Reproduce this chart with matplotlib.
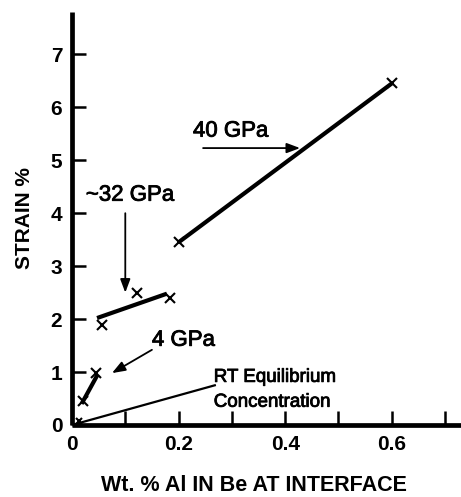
import matplotlib
matplotlib.use("Agg")
import matplotlib.pyplot as plt
import matplotlib.patheffects as pe
from matplotlib.ticker import FixedLocator

# Data (wt.% Al, strain %)
gpa40_line_x = [0.2, 0.6]
gpa40_line_y = [3.45, 6.45]
gpa40_pts_x = [0.2, 0.6]
gpa40_pts_y = [3.45, 6.45]

gpa32_line_x = [0.047, 0.178]
gpa32_line_y = [2.02, 2.48]
gpa32_pts_x = [0.056, 0.122, 0.184]
gpa32_pts_y = [1.88, 2.5, 2.4]

gpa4_line_x = [0.018, 0.048]
gpa4_line_y = [0.4, 0.95]
gpa4_pts_x = [0.021, 0.045]
gpa4_pts_y = [0.45, 0.98]

rt_line_x = [0.0, 0.268]
rt_line_y = [0.0, 0.75]
rt_pts_x = [0.014]
rt_pts_y = [0.08]

x_major = [0, 0.2, 0.4, 0.6]
x_minor = [0.1, 0.3, 0.5, 0.7]
x_labels = ['0', '0.2', '0.4', '0.6']
y_ticks = [0, 1, 2, 3, 4, 5, 6, 7]

plt.rcParams['font.family'] = ['Liberation Sans', 'DejaVu Sans']

fig = plt.figure(figsize=(4.61, 4.97), dpi=100)
ax = fig.add_axes([72/461, 72/497, (461-72)/461, (425-12)/497])
ax.set_xlim(0, 0.73)
ax.set_ylim(0, 7.8)

for s in ['top', 'right']:
    ax.spines[s].set_visible(False)
for s in ['left', 'bottom']:
    ax.spines[s].set_linewidth(3.4)
    ax.spines[s].set_capstyle('butt')

ax.xaxis.set_major_locator(FixedLocator(x_major))
ax.xaxis.set_minor_locator(FixedLocator(x_minor))
ax.yaxis.set_major_locator(FixedLocator(y_ticks))
ax.set_xticklabels(x_labels)
ax.tick_params(axis='both', which='both', direction='in', length=10, width=1.8, pad=7,
               labelsize=15)
for lab in ax.get_xticklabels() + ax.get_yticklabels():
    lab.set_fontweight('bold')

ax.set_ylabel('STRAIN %', fontsize=15, fontweight='bold', labelpad=12)
ax.set_xlabel('Wt. % Al IN Be AT INTERFACE', fontsize=15.5, fontweight='bold')
ax.xaxis.set_label_coords(0.467, -0.122)

lc = '#000000'
ax.plot(gpa40_line_x, gpa40_line_y, color=lc, lw=3, solid_capstyle='butt')
ax.plot(gpa40_pts_x, gpa40_pts_y, 'x', color=lc, ms=7, mew=1.5)
ax.plot(gpa32_line_x, gpa32_line_y, color=lc, lw=3, solid_capstyle='butt')
ax.plot(gpa32_pts_x, gpa32_pts_y, 'x', color=lc, ms=7, mew=1.5)
ax.plot(gpa4_line_x, gpa4_line_y, color=lc, lw=3, solid_capstyle='butt')
ax.plot(gpa4_pts_x, gpa4_pts_y, 'x', color=lc, ms=7, mew=1.5)
ax.plot(rt_line_x, rt_line_y, color=lc, lw=1.6)
ax.plot(rt_pts_x, rt_pts_y, 'x', color=lc, ms=5, mew=1.5)

heavy = [pe.withStroke(linewidth=0.6, foreground='black')]
ap = dict(arrowstyle='-|>,head_length=0.8,head_width=0.3', color=lc, lw=1.3,
          shrinkA=0, shrinkB=0)

ax.text(0.227, 5.55, '40 GPa', fontsize=16, ha='left', va='center', path_effects=heavy)
ax.annotate('', xy=(0.428, 5.23), xytext=(0.246, 5.23), arrowprops=ap)

ax.text(0.026, 4.34, '~32 GPa', fontsize=16, ha='left', va='center', path_effects=heavy)
ax.annotate('', xy=(0.1, 2.5), xytext=(0.1, 4.0), arrowprops=ap)

ax.text(0.15, 1.6, '4 GPa', fontsize=16, ha='left', va='center', path_effects=heavy)
ax.annotate('', xy=(0.075, 0.98), xytext=(0.15, 1.42), arrowprops=ap)

ax.text(0.266, 0.9, 'RT Equilibrium', fontsize=13.5, ha='left', va='center', path_effects=heavy)
ax.text(0.266, 0.43, 'Concentration', fontsize=13.5, ha='left', va='center', path_effects=heavy)

fig.savefig('out.png', dpi=100)
